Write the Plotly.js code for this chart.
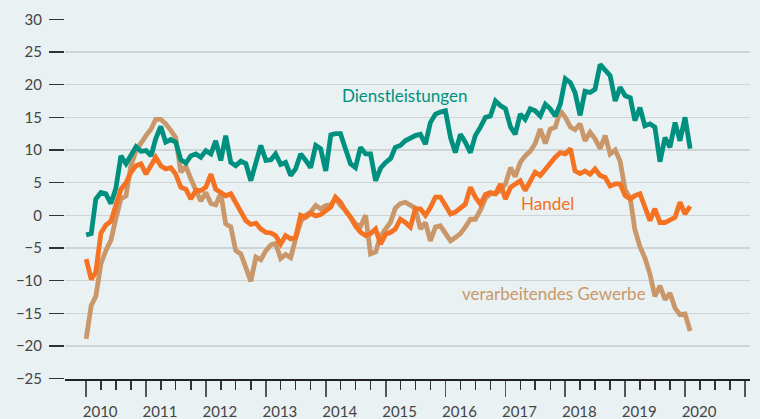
<!DOCTYPE html>
<html>
<head>
<meta charset="utf-8">
<script src="https://cdn.plot.ly/plotly-3.0.1.min.js"></script>
<style>
  html, body { margin: 0; padding: 0; background: #e9f1f2; }
  #chart { width: 760px; height: 419px; }
</style>
</head>
<body>
<div id="chart"></div>
<script>
// Monthly values, January 2010 to February 2020
const startYear = 2010;
const dienstleistungen = [
  -3.0, -2.8, 2.5, 3.5, 3.3, 1.8, 4.1, 9.1, 7.9, 9.1,
  10.5, 9.8, 9.9, 9.1, 11.7, 13.6, 11.2, 11.6, 11.2, 8.5,
  8.0, 9.1, 9.4, 8.9, 9.9, 9.4, 11.4, 8.4, 12.2, 8.1,
  7.6, 8.3, 7.9, 5.3, 8.1, 10.7, 8.4, 8.5, 9.4, 7.8,
  8.1, 6.1, 7.1, 9.4, 8.4, 7.3, 10.7, 10.2, 6.8, 12.3,
  12.5, 12.5, 10.2, 7.9, 7.3, 10.4, 9.4, 9.4, 5.3, 7.2,
  8.1, 8.7, 10.4, 10.7, 11.4, 11.9, 12.2, 12.4, 10.9, 14.2,
  15.5, 15.8, 16.0, 11.9, 9.6, 12.4, 11.2, 9.6, 12.2, 13.5,
  15.0, 15.2, 17.5, 16.8, 16.3, 13.5, 12.4, 15.5, 14.7, 16.3,
  16.0, 15.2, 17.0, 16.3, 15.2, 17.0, 20.9, 20.3, 18.8, 15.3,
  19.0, 18.8, 19.3, 23.1, 22.1, 21.4, 17.5, 19.6, 18.3, 18.0,
  14.5, 16.5, 13.7, 14.0, 13.5, 8.2, 11.9, 10.4, 14.2, 11.4,
  15.0, 10.2
];
const handel = [
  -6.7, -9.8, -8.7, -2.7, -1.5, -0.9, 1.5, 4.0, 5.0, 6.6,
  7.6, 7.9, 6.3, 7.6, 8.9, 7.6, 7.1, 7.3, 6.3, 4.3,
  4.0, 2.5, 3.8, 3.8, 4.3, 6.3, 4.0, 3.5, 3.0, 3.3,
  2.0, 0.7, -0.8, -1.4, -1.2, -2.1, -2.6, -2.7, -3.1, -4.4,
  -3.1, -3.6, -3.4, 0.0, -0.3, 0.3, -0.1, 0.1, 0.6, 1.3,
  2.8, 2.0, 0.7, -0.3, -1.6, -2.6, -3.1, -2.8, -2.1, -4.4,
  -2.9, -2.6, -2.1, -0.6, -1.1, -1.8, 1.0, 1.0, 0.0, 1.2,
  2.8, 2.8, 1.5, 0.2, 0.5, 1.2, 1.7, 4.3, 2.8, 1.7,
  3.2, 3.5, 3.3, 4.8, 2.5, 4.3, 4.8, 5.3, 3.8, 5.3,
  6.6, 6.1, 7.1, 7.9, 8.9, 9.6, 9.4, 10.2, 6.8, 6.4,
  6.8, 6.3, 7.1, 6.1, 5.8, 4.5, 4.8, 4.8, 3.0, 2.5,
  3.0, 3.3, 1.5, -0.8, 1.0, -1.1, -1.1, -0.6, -0.3, 2.0,
  0.2, 1.4
];
const verarbeitendesGewerbe = [
  -18.9, -13.8, -12.4, -7.4, -5.4, -3.8, -0.5, 2.5, 3.0, 7.6,
  9.9, 11.2, 12.2, 13.2, 14.7, 14.7, 14.0, 13.0, 11.9, 6.6,
  7.5, 5.6, 3.8, 2.2, 3.5, 1.8, 1.6, 3.4, -1.3, -1.8,
  -5.4, -5.9, -8.0, -10.1, -6.4, -6.8, -5.4, -4.5, -4.3, -6.6,
  -6.0, -6.5, -3.6, -1.0, 0.0, 0.5, 1.5, 1.0, 1.5, 1.6,
  2.6, 1.5, 0.8, -0.3, -1.3, -1.7, 0.0, -5.9, -5.6, -3.2,
  -2.0, -1.0, 1.1, 1.8, 2.0, 1.5, 1.1, -2.1, -1.1, -3.9,
  -1.8, -1.6, -2.8, -3.9, -3.4, -2.8, -1.8, -0.6, -0.6, 0.8,
  2.6, 3.3, 3.3, 3.8, 4.8, 7.3, 5.9, 8.1, 9.1, 9.8,
  11.0, 13.2, 11.0, 13.2, 13.5, 16.0, 15.0, 13.5, 13.1, 14.0,
  11.4, 12.7, 11.7, 10.2, 12.2, 9.4, 10.0, 8.3, 3.9, 2.6,
  -2.2, -4.8, -6.5, -9.0, -12.4, -10.8, -12.9, -11.9, -14.2, -15.2,
  -15.1, -17.7
];
const yearTicks = [2010, 2011, 2012, 2013, 2014, 2015, 2016, 2017, 2018, 2019, 2020, 2021];
const yearLabels = ['2010', '2011', '2012', '2013', '2014', '2015', '2016', '2017', '2018', '2019', '2020', ''];
const seriesNames = ['Dienstleistungen', 'Handel', 'verarbeitendes Gewerbe'];

function pad(n) { return (n < 10 ? '0' : '') + n; }
const months = dienstleistungen.map((_, i) => {
  const y = startYear + Math.floor(i / 12);
  const m = (i % 12) + 1;
  return y + '-' + pad(m) + '-01';
});
const yearDates = yearTicks.map(y => y + '-01-01');
const quarterDates = [];
yearTicks.forEach((y, k) => {
  if (k < yearTicks.length - 1) {
    ['04', '07', '10'].forEach(m => quarterDates.push(y + '-' + m + '-01'));
  }
});

const TEAL = '#00907f';
const ORANGE = '#f47221';
const TAN = '#c9976a';
const FONT = 'Lato, "Open Sans", sans-serif';

const traces = [
  { x: months, y: verarbeitendesGewerbe, name: seriesNames[2], mode: 'lines',
    line: { color: TAN, width: 4.8 } },
  { x: months, y: handel, name: seriesNames[1], mode: 'lines',
    line: { color: ORANGE, width: 4.8 } },
  { x: months, y: dienstleistungen, name: seriesNames[0], mode: 'lines',
    line: { color: TEAL, width: 4.8 } }
];

const layout = {
  width: 760, height: 419,
  margin: { l: 65, r: 10, t: 19, b: 40 },
  paper_bgcolor: '#e9f1f2',
  plot_bgcolor: '#e9f1f2',
  showlegend: false,
  hovermode: false,
  font: { family: FONT, color: '#444', size: 14 },
  xaxis: {
    type: 'date',
    range: ['2009-08-25', '2021-01-31'],
    tickmode: 'array',
    tickvals: yearDates,
    ticktext: yearLabels,
    ticks: 'outside',
    ticklen: 16,
    tickwidth: 1.8,
    tickcolor: '#555',
    ticklabelshift: 14,
    ticklabelstandoff: 2,
    tickfont: { family: FONT, size: 15, color: '#444' },
    showgrid: false,
    zeroline: false,
    showline: true,
    linecolor: '#222',
    linewidth: 1.5,
    minor: { tickmode: 'array', tickvals: quarterDates, ticks: 'outside', ticklen: 9, tickwidth: 1.5, tickcolor: '#333', showgrid: false }
  },
  yaxis: {
    range: [-25.05, 30.05],
    tickmode: 'linear',
    tick0: -25,
    dtick: 5,
    ticks: 'outside',
    ticklen: 15,
    tickwidth: 1.5,
    tickcolor: '#333',
    ticklabelstandoff: 4,
    tickfont: { family: FONT, size: 15, color: '#444' },
    showgrid: true,
    gridcolor: '#cfd5d6',
    gridwidth: 1.3,
    zeroline: false,
    showline: false
  },
  annotations: [
    { x: '2015-04-28', y: 18.3, xref: 'x', yref: 'y', text: seriesNames[0], showarrow: false,
      font: { family: FONT, size: 17, color: TEAL } },
    { x: '2017-09-17', y: 1.8, xref: 'x', yref: 'y', text: seriesNames[1], showarrow: false,
      font: { family: FONT, size: 17, color: ORANGE } },
    { x: '2017-10-23', y: -12.0, xref: 'x', yref: 'y', text: seriesNames[2], showarrow: false,
      font: { family: FONT, size: 17, color: TAN } }
  ]
};

Plotly.newPlot('chart', traces, layout, { displayModeBar: false, staticPlot: true });
</script>
</body>
</html>
